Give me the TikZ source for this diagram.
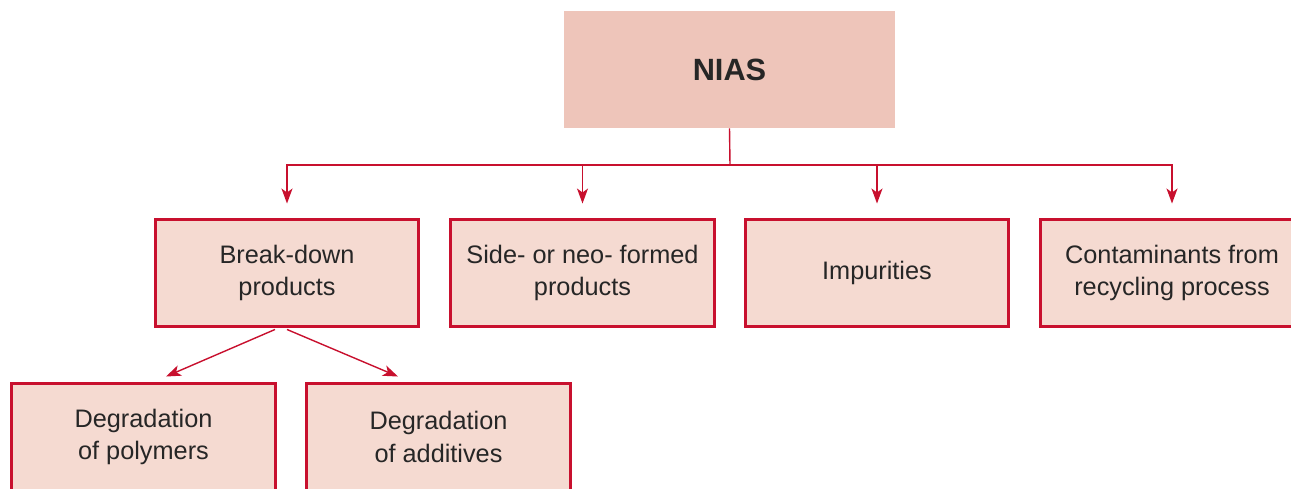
\documentclass[tikz,border=0pt]{standalone}
\usepackage{fontspec}
\setmainfont{Liberation Sans}
\usetikzlibrary{arrows.meta,calc}
\definecolor{niasred}{HTML}{C8102E}
\definecolor{boxfill}{HTML}{F5DAD1}
\definecolor{topfill}{HTML}{EEC5BA}

\begin{document}
\begin{tikzpicture}[x=0.02cm,y=-0.02cm,
   every node/.style={font=\fontsize{14.4}{18.3}\selectfont,text=black!85,align=center},
   topbox/.style={fill=topfill,minimum width=6.62cm,minimum height=2.34cm,
      font=\fontsize{17.5}{20}\selectfont\bfseries},
   catbox/.style={draw=niasred,fill=boxfill,line width=1.7pt,
      minimum width=5.28cm,minimum height=2.16cm},
   conn/.style={draw=niasred,line width=0.8pt},
   arr/.style={conn,-{Stealth[length=0.3cm,width=0.22cm,inset=0.08cm]}}]
\clip (0,0) rectangle (1291,489);
\node[topbox] (nias) at (729.5,69.5) {NIAS};
\node[catbox] (brk) at (287,273) {Break-down\\products};
\node[catbox] (side) at (582.5,273) {Side- or neo- formed\\products};
\node[catbox] (imp) at (877,273) {Impurities};
\node[catbox] (cont) at (1172,273) {Contaminants from\\recycling process};
\node[catbox] (poly) at (143.5,437) {Degradation\\of polymers};
\node[catbox] (addv) at (438.5,437) {Degradation\\of additives};
\coordinate (split) at (730,165);
\draw[conn] (nias.south) -- (split);
\foreach \b in {brk,side,imp,cont}
   \draw[arr,shorten >=0.28cm] (split) -| (\b.north);
\draw[arr] ($(brk.south)+(-12,1)$) -- ($(poly.north)+(22.5,-5)$);
\draw[arr] ($(brk.south)+(0,1)$) -- ($(addv.north)+(-40.5,-5)$);
\end{tikzpicture}
\end{document}
